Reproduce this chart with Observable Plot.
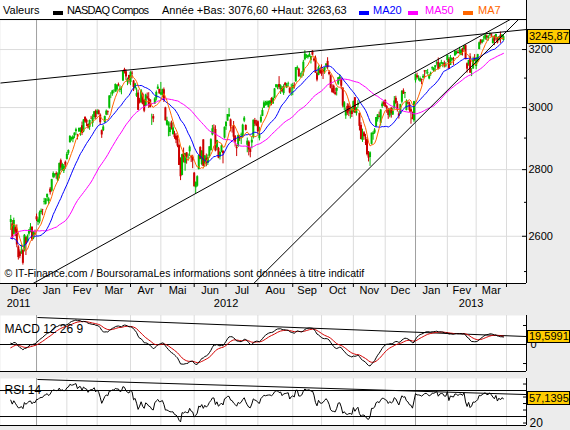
<!DOCTYPE html>
<html><head><meta charset="utf-8">
<script src="https://cdn.jsdelivr.net/npm/d3@7"></script>
<script src="https://cdn.jsdelivr.net/npm/@observablehq/plot@0.6"></script>
<style>
body{margin:0;background:#fff;}
#root{position:relative;width:570px;height:430px;background:#ececec;overflow:hidden;font-family:"Liberation Sans",Arial,sans-serif;color:#000;}
.abs{position:absolute;}
#hdr{left:0;top:0;width:526px;height:19px;background:#fff;border-bottom:1px solid #000;border-right:1px solid #000;}
#hdr span{position:absolute;top:4px;font-size:11px;line-height:13px;white-space:nowrap;}
#hdr i{position:absolute;top:11px;width:10px;height:4px;}
.box{position:absolute;left:527px;width:43px;background:#ffcc00;border:1px solid #000;font-size:11px;padding-left:1px;box-sizing:border-box;white-space:nowrap;overflow:hidden;}
</style>
</head><body>
<div id="root">
  <div id="hdr" class="abs">
    <span style="left:3px">Valeurs</span>
    <i style="left:53px;background:#000"></i>
    <span style="left:67px;letter-spacing:-0.7px">NASDAQ Compos</span>
    <span style="left:162px">Année +Bas: 3076,60 +Haut: 3263,63</span>
    <i style="left:359px;background:#0000ff"></i>
    <span style="left:373px;color:#0000ff">MA20</span>
    <i style="left:408px;background:#ff00ff"></i>
    <span style="left:425px;color:#ff00ff">MA50</span>
    <i style="left:463px;background:#ff6600"></i>
    <span style="left:478px;color:#ff6600">MA7</span>
  </div>
  <div id="main" class="abs" style="left:0;top:20px"></div>
  <div id="macd" class="abs" style="left:0;top:315px"></div>
  <div id="rsi" class="abs" style="left:0;top:378px"></div>
</div>
<script>
// ---------- DATA (NASDAQ Composite, daily [open, high, low, close]) ----------
const warmupCloses = [2546,2491,2481,2415,
 2335,2404,2460,2506,2479,2566,2583,2604,2620,2667,2614,2657,2604,2599,2637,2699,2638,2650,2738,2738,2684,
 2606,2640,2698,2686,2695,2727,2621,2625,2678,2657,2686,2639,2588,2573,2523,2521,2460,2441,2527,2516,2620,
 2626,2627,2655,2649];
const dec2011 = [[2640,2661,2617,2649],[2636,2646,2590,2596],[2606,2653,2604,2646],[2625,2628,2599,2612],[2620,2633,2567,2575],[2569,2573,2532,2539],[2555,2561,2536,2542],[2552,2575,2548,2555],[2559,2563,2518,2523],[2560,2605,2555,2603],[2596,2600,2545,2577],[2584,2604,2582,2599],[2606,2619,2600,2618],[2612,2637,2610,2625],[2626,2628,2585,2590],[2593,2614,2590,2613],[2607,2618,2602,2605]];
const jan2012 = [[2657,2665,2643,2648],[2640,2654,2631,2648],[2642,2674,2636,2669],[2669,2680,2663,2674],[2677,2679,2660,2676],[2700,2712,2692,2702],[2694,2711,2692,2710],[2714,2725,2702,2724],[2702,2714,2693,2710],[2740,2745,2722,2729],[2734,2770,2731,2769],[2776,2793,2772,2788],[2780,2787,2774,2786],[2788,2793,2770,2784],[2765,2790,2764,2786],[2783,2821,2771,2819],[2828,2833,2795,2805],[2797,2820,2795,2816],[2795,2816,2788,2811],[2823,2827,2801,2814]];
const feb2012 = [[2832,2854,2830,2848],[2851,2862,2845,2860],[2885,2908,2884,2905],[2895,2903,2890,2901],[2895,2908,2885,2904],[2908,2917,2898,2916],[2921,2932,2907,2927],[2905,2912,2894,2904],[2920,2933,2918,2931],[2922,2933,2906,2932],[2940,2952,2908,2915],[2920,2960,2917,2959],[2967,2970,2948,2952],[2958,2962,2937,2949],[2944,2947,2929,2933],[2935,2959,2925,2957],[2964,2971,2960,2963],[2948,2976,2935,2966],[2967,2987,2961,2986],[2988,2992,2961,2967]];
const mar2012 = [[2978,2993,2976,2988],[2989,2992,2975,2977],[2975,2979,2943,2950],[2924,2926,2899,2910],[2924,2941,2921,2936],[2950,2972,2948,2970],[2975,2992,2973,2988],[2986,2989,2974,2983],[2998,3040,2995,3039],[3041,3050,3030,3041],[3045,3058,3038,3056],[3055,3060,3047,3055],[3053,3080,3051,3078],[3059,3077,3052,3075],[3078,3083,3070,3075],[3058,3074,3050,3063],[3066,3070,3043,3068],[3090,3123,3088,3123],[3129,3134,3114,3120],[3122,3129,3092,3104],[3085,3100,3074,3095],[3109,3110,3079,3092]];
const apr2012 = [[3085,3122,3074,3120],[3117,3123,3097,3114],[3090,3092,3054,3068],[3064,3082,3059,3080],[3038,3066,3034,3047],[3049,3059,2990,2991],[3025,3031,3012,3016],[3016,3061,3014,3056],[3045,3049,3009,3011],[3025,3026,2983,2988],[3004,3045,3003,3042],[3036,3049,3026,3031],[3030,3050,2997,3007],[3025,3027,2999,3000],[2970,2978,2941,2970],[2970,2977,2950,2962],[3012,3033,3011,3029],[3029,3056,3022,3051],[3062,3077,3060,3069],[3061,3062,3045,3046]];
const may2012 = [[3043,3085,3040,3050],[3040,3062,3033,3060],[3060,3066,3017,3024],[2999,3001,2956,2956],[2942,2968,2939,2957],[2939,2953,2904,2946],[2918,2952,2905,2934],[2948,2955,2926,2933],[2911,2950,2910,2933],[2912,2922,2896,2902],[2906,2915,2882,2893],[2896,2908,2869,2874],[2876,2880,2813,2813],[2833,2837,2766,2778],[2782,2848,2781,2847],[2851,2868,2821,2839],[2820,2851,2795,2850],[2853,2853,2817,2839],[2836,2849,2827,2837],[2856,2875,2841,2871],[2840,2843,2822,2837],[2839,2845,2803,2827]];
const jun2012 = [[2789,2791,2747,2747],[2744,2762,2726,2760],[2749,2781,2746,2778],[2800,2845,2799,2844],[2870,2872,2831,2832],[2816,2860,2812,2858],[2894,2895,2809,2810],[2817,2844,2807,2843],[2836,2849,2809,2819],[2820,2846,2813,2837],[2842,2872,2836,2872],[2860,2898,2858,2895],[2910,2941,2907,2930],[2932,2943,2913,2930],[2928,2940,2856,2859],[2868,2893,2859,2892],[2867,2870,2834,2836],[2840,2857,2830,2854],[2857,2878,2853,2875],[2858,2859,2818,2850],[2900,2936,2897,2935]];
const jul2012 = [[2937,2954,2925,2951],[2955,2977,2955,2977],[2970,2997,2967,2976],[2959,2962,2920,2937],[2932,2936,2916,2931],[2939,2954,2891,2903],[2906,2908,2871,2887],[2870,2877,2841,2866],[2873,2910,2870,2908],[2903,2908,2889,2897],[2908,2916,2879,2910],[2905,2945,2900,2942],[2955,2970,2950,2965],[2941,2943,2923,2925],[2877,2900,2853,2890],[2887,2891,2843,2862],[2863,2869,2837,2854],[2884,2903,2865,2893],[2902,2959,2897,2958],[2957,2964,2937,2945],[2946,2958,2937,2940]];
const aug2012 = [[2953,2956,2913,2920],[2898,2935,2891,2910],[2952,2975,2948,2968],[2971,2998,2970,2990],[2998,3022,2997,3016],[3006,3021,3005,3011],[3008,3022,3006,3018],[3000,3021,2999,3021],[3011,3022,3004,3022],[3030,3033,3006,3017],[3012,3035,3011,3031],[3033,3064,3030,3063],[3068,3077,3065,3077],[3071,3076,3060,3076],[3078,3105,3060,3067],[3061,3077,3044,3073],[3064,3071,3050,3053],[3047,3077,3041,3070],[3082,3085,3070,3074],[3067,3082,3064,3077],[3079,3086,3070,3081],[3064,3068,3046,3049],[3067,3079,3038,3067]];
const sep2012 = [[3063,3082,3040,3075],[3073,3084,3062,3069],[3087,3136,3086,3136],[3133,3142,3127,3137],[3131,3134,3104,3104],[3105,3117,3100,3105],[3114,3122,3100,3115],[3118,3162,3106,3155],[3164,3196,3160,3184],[3176,3182,3168,3178],[3171,3180,3166,3178],[3175,3189,3172,3182],[3162,3176,3149,3175],[3194,3196,3177,3180],[3166,3171,3156,3160],[3170,3177,3117,3117],[3116,3120,3087,3093],[3109,3142,3108,3136],[3126,3131,3113,3116]];
const oct2012 = [[3130,3146,3106,3113],[3126,3134,3095,3120],[3124,3137,3113,3135],[3142,3150,3132,3149],[3158,3171,3130,3136],[3120,3126,3108,3112],[3108,3111,3063,3065],[3064,3077,3048,3051],[3072,3076,3046,3049],[3050,3065,3040,3044],[3055,3066,3039,3065],[3079,3102,3075,3101],[3094,3112,3089,3104],[3094,3100,3060,3072],[3066,3066,2999,3005],[3000,3020,2990,3016],[2972,2999,2961,2990],[3004,3013,2974,2981],[3005,3012,2970,2986],[2978,2998,2962,2987],[2989,2998,2967,2977]];
const nov2012 = [[2986,3022,2982,3020],[3033,3034,2980,2982],[2980,3000,2972,2999],[3007,3023,2998,3011],[2981,2981,2923,2938],[2941,2950,2895,2895],[2892,2929,2886,2904],[2917,2921,2893,2904],[2885,2912,2876,2884],[2895,2902,2843,2847],[2849,2857,2824,2836],[2838,2856,2810,2853],[2880,2916,2878,2916],[2911,2921,2893,2916],[2916,2931,2912,2926],[2937,2967,2935,2967],[2960,2977,2952,2976],[2971,2985,2966,2968],[2948,2993,2939,2992],[3003,3019,2997,3012],[3016,3020,3004,3010]];
const dec2012 = [[3024,3026,3000,3002],[3003,3007,2981,2996],[2994,2997,2961,2974],[2972,2996,2966,2989],[2998,3000,2965,2979],[2975,2998,2974,2987],[2996,3037,2995,3022],[3031,3038,3010,3014],[3012,3020,2985,2993],[2979,2986,2962,2971],[2978,3011,2978,3010],[3018,3057,3012,3055],[3056,3063,3044,3045],[3047,3051,3030,3050],[2990,3026,2989,3021],[3016,3020,3010,3012],[3012,3018,2984,2990],[2993,3000,2945,2985],[2966,2985,2960,2960],[2956,3021,2950,3020]];
const jan2013 = [[3091,3113,3083,3112],[3108,3117,3096,3101],[3101,3108,3090,3101],[3089,3104,3085,3098],[3095,3097,3077,3092],[3100,3112,3097,3106],[3125,3126,3098,3121],[3123,3126,3113,3125],[3116,3130,3110,3118],[3097,3112,3094,3110],[3112,3121,3106,3117],[3132,3139,3126,3136],[3124,3135,3120,3135],[3136,3144,3121,3143],[3149,3159,3142,3153],[3154,3170,3128,3130],[3137,3152,3131,3150],[3150,3162,3146,3154],[3147,3153,3136,3153],[3150,3159,3135,3142],[3140,3154,3136,3142]];
const feb2013 = [[3161,3180,3154,3179],[3165,3171,3131,3131],[3144,3179,3144,3171],[3162,3170,3157,3168],[3168,3172,3144,3165],[3178,3196,3175,3194],[3189,3195,3181,3192],[3190,3198,3184,3186],[3193,3208,3183,3196],[3180,3202,3178,3198],[3202,3205,3177,3192],[3200,3213,3195,3213],[3214,3216,3164,3164],[3150,3153,3117,3131],[3147,3162,3141,3161],[3174,3185,3116,3117],[3129,3133,3105,3129],[3132,3173,3130,3162],[3167,3182,3157,3160]];
const mar2013 = [[3140,3172,3129,3169],[3159,3183,3154,3182],[3200,3227,3199,3224],[3234,3235,3216,3222],[3224,3236,3220,3232],[3242,3248,3226,3244],[3237,3253,3233,3252],[3248,3252,3231,3242],[3240,3250,3230,3245],[3252,3259,3246,3258],[3253,3257,3242,3249],[3221,3248,3220,3238],[3245,3250,3214,3229],[3243,3255,3233,3254],[3240,3244,3220,3223],[3232,3246,3230,3245],[3251,3263,3222,3235],[3244,3253,3240,3252],[3232,3250,3230,3245.87]];

const monthNames = ["Dec","Jan","Fev","Mar","Avr","Mai","Jun","Jul","Aou","Sep","Oct","Nov","Dec","Jan","Fev","Mar"];
const monthTradingDays = [21,20,20,22,20,22,21,21,23,19,21,21,20,21,19,20];
const yearNames = ["2011","2012","2013"];
const yearStartMonth = [0,1,13];
const firstBarIndex = 4;
const priceTicks = [2600,2800,3000,3200];
const priceMinorTicks = [2500,2700,2900,3100];
const lastPrice = 3245.87, lastMacd = 19.5991, lastRsi = 57.1395;
// drawn trend lines (bar index, value)
const priceTrends = [
  {i1:-2.8, v1:3083, i2:344.2, v2:3272},
  {i1:10.4, v1:2448, i2:344.2, v2:3342},
  {i1:155.5, v1:2431, i2:344.2, v2:3338}
];
const macdTrend = [{i1:21.6, v1:71, i2:344.2, v2:21}];
const rsiTrend = [{i1:21.6, v1:87, i2:344.2, v2:63.8}];

// ---------- BUILD ----------
const months = [dec2011,jan2012,feb2012,mar2012,apr2012,may2012,jun2012,jul2012,aug2012,sep2012,oct2012,nov2012,dec2012,jan2013,feb2013,mar2013];
const bars = [];
let idx = firstBarIndex;
for (const m of months) for (const [o,h,l,c] of m) bars.push({i:idx++, open:o, high:h, low:l, close:c});
const allCloses = warmupCloses.concat(bars.map(b => b.close));
const off = warmupCloses.length;
const sma = n => bars.map((b,k) => ({i:b.i, v:d3.mean(allCloses.slice(off+k-n+1, off+k+1))}));
const ma7 = sma(7), ma20 = sma(20), ma50 = sma(50);
function ema(arr,n){const a=2/(n+1);let e=arr[0];return arr.map((v,j)=>j===0?e:(e=a*v+(1-a)*e));}
const e12 = ema(allCloses,12), e26 = ema(allCloses,26);
const macdAll = e12.map((v,j)=>v-e26[j]);
const sigAll = ema(macdAll,9);
const rsiAll = (()=>{const n=14,out=[];let ag=0,al=0;
  for(let j=0;j<allCloses.length;j++){
    if(j===0){out.push(NaN);continue;}
    const d=allCloses[j]-allCloses[j-1],g=Math.max(d,0),l=Math.max(-d,0);
    if(j<=n){ag+=g/n;al+=l/n;out.push(j===n?100-100/(1+ag/al):NaN);}
    else{ag=(ag*(n-1)+g)/n;al=(al*(n-1)+l)/n;out.push(100-100/(1+ag/al));}
  } return out;})();
const ind = bars.map((b,k)=>({i:b.i, macd:macdAll[off+k], signal:sigAll[off+k], rsi:rsiAll[off+k]}));

const monthStarts = [0];
for (const d of monthTradingDays) monthStarts.push(monthStarts[monthStarts.length-1]+d);
const yearStarts = yearStartMonth.slice(1).map(m => monthStarts[m]);
const gridMonths = monthStarts.filter(s => s>0 && !yearStarts.includes(s));
const tickMonths = monthStarts.filter(s => s>0);
const xDomain = [-2.77, 344.2];
const monthLabels = monthNames.map((n,k)=>({name:n, mid:(monthStarts[k]+monthStarts[k+1])/2}));
const yearEdges = [xDomain[0], ...yearStarts, xDomain[1]];
const yearLabels = yearNames.map((n,k)=>({name:n, mid:(yearEdges[k]+yearEdges[k+1])/2}));

const GREEN="#00bb00", RED="#cc0000";
const col = d => d.close >= d.open ? GREEN : RED;
const font = {background:"transparent", fontFamily:"Liberation Sans, Arial, sans-serif", fontSize:"11px", color:"#000", overflow:"visible"};
const priceDomain = [2467, 3305];

const mainPlot = Plot.plot({
  width:570, height:296, marginTop:0, marginBottom:33, marginLeft:0, marginRight:44,
  style:font,
  x:{domain:xDomain},
  y:{type:"log", domain:priceDomain},
  marks:[
    Plot.frame({fill:"white", stroke:null}),
    Plot.ruleY(priceTicks, {stroke:"#dcdcdc"}),
    Plot.ruleX(gridMonths, {stroke:"#dcdcdc"}),
    Plot.ruleX(yearStarts, {stroke:"#a0a0a0"}),
    Plot.ruleX(bars, {x:"i", y1:"low", y2:"high", stroke:col, strokeWidth:1}),
    Plot.ruleX(bars, {x:"i", y1:"open", y2:"close", stroke:col, strokeWidth:2}),
    Plot.lineY(ma50, {x:"i", y:"v", stroke:"#ff00ff", strokeWidth:1}),
    Plot.lineY(ma20, {x:"i", y:"v", stroke:"#0000ff", strokeWidth:1}),
    Plot.lineY(ma7, {x:"i", y:"v", stroke:"#ff6600", strokeWidth:1}),
    Plot.link(priceTrends, {x1:"i1", y1:"v1", x2:"i2", y2:"v2", stroke:"#000", strokeWidth:1, clip:true}),
    Plot.text(["© IT-Finance.com / BoursoramaLes informations sont données à titre indicatif"], {frameAnchor:"bottom-left", dx:4, dy:-7, textAnchor:"start", fontSize:10.5, fill:"#000"}),
    Plot.ruleX([xDomain[1]], {stroke:"#000"}),
    Plot.ruleY([priceDomain[0]], {stroke:"#000"}),
    Plot.axisY({anchor:"right", ticks:priceTicks, tickSize:-5, tickPadding:7, tickFormat:d=>String(d), label:null, fontSize:11}),
    Plot.axisY({anchor:"right", ticks:priceMinorTicks, tickSize:-3, tickFormat:()=>"", label:null}),
    Plot.axisX({ticks:tickMonths, tickSize:4, tickFormat:()=>"", label:null}),
    Plot.text(monthLabels, {x:"mid", text:"name", frameAnchor:"bottom", dy:10, fontSize:11}),
    Plot.text(yearLabels, {x:"mid", text:"name", frameAnchor:"bottom", dy:23, fontSize:11})
  ]
});
document.getElementById("main").appendChild(mainPlot);

const macdDomain = [-71, 76.3];
const macdPlot = Plot.plot({
  width:570, height:57, marginTop:0, marginBottom:1, marginLeft:0, marginRight:44,
  style:font,
  x:{domain:xDomain, axis:null}, y:{domain:macdDomain},
  marks:[
    Plot.frame({fill:"white", stroke:null}),
    Plot.ruleX(gridMonths, {stroke:"#dcdcdc"}),
    Plot.ruleX(yearStarts, {stroke:"#a0a0a0"}),
    Plot.ruleY([0], {stroke:"#000"}),
    Plot.link(macdTrend, {x1:"i1", y1:"v1", x2:"i2", y2:"v2", stroke:"#000", clip:true}),
    Plot.lineY(ind, {x:"i", y:"signal", stroke:"#d40000", strokeWidth:1}),
    Plot.lineY(ind, {x:"i", y:"macd", stroke:"#000", strokeWidth:1}),
    Plot.text(["MACD 12 26 9"], {frameAnchor:"top-left", dx:4, dy:9, textAnchor:"start", fontSize:12}),
    Plot.ruleX([xDomain[1]], {stroke:"#000"}),
    Plot.ruleY([macdDomain[0]], {stroke:"#000"}),
    Plot.axisY({anchor:"right", ticks:[-50,50], tickSize:-4, tickFormat:()=>"", label:null}),
    Plot.axisY({anchor:"right", ticks:[0], tickSize:0, tickPadding:4, tickFormat:d=>String(d), label:null})
  ]
});
document.getElementById("macd").appendChild(macdPlot);

const rsiDomain = [16.2, 88.5];
const rsiPlot = Plot.plot({
  width:570, height:48, marginTop:0, marginBottom:1, marginLeft:0, marginRight:44,
  style:font,
  x:{domain:xDomain, axis:null}, y:{domain:rsiDomain},
  marks:[
    Plot.frame({fill:"white", stroke:null}),
    Plot.ruleX(gridMonths, {stroke:"#dcdcdc"}),
    Plot.ruleX(yearStarts, {stroke:"#a0a0a0"}),
    Plot.ruleY([30,70], {stroke:"#000"}),
    Plot.link(rsiTrend, {x1:"i1", y1:"v1", x2:"i2", y2:"v2", stroke:"#000", clip:true}),
    Plot.lineY(ind, {x:"i", y:"rsi", stroke:"#000", strokeWidth:1}),
    Plot.text(["RSI 14"], {frameAnchor:"top-left", dx:4, dy:7, textAnchor:"start", fontSize:12}),
    Plot.ruleX([xDomain[1]], {stroke:"#000"}),
    Plot.ruleY([rsiDomain[0]], {stroke:"#000"}),
    Plot.axisY({anchor:"right", ticks:[80,60,50,40,30], tickSize:-4, tickFormat:()=>"", label:null}),
    Plot.axisY({anchor:"right", ticks:[20], tickSize:-4, tickPadding:7, tickFormat:d=>String(d), label:null, fontSize:12})
  ]
});
document.getElementById("rsi").appendChild(rsiPlot);

// value boxes placed with the plots' own y scales
function addBox(plot, top, value, text, h){
  const y = top + plot.scale("y").apply(value);
  const div = document.createElement("div");
  div.className = "box";
  div.style.top = Math.round(y - h/2) + "px";
  div.style.height = h + "px";
  div.style.lineHeight = (h-2) + "px";
  div.textContent = text;
  document.getElementById("root").appendChild(div);
}
addBox(mainPlot, 20, lastPrice, "3245,87", 15);
addBox(macdPlot, 315, lastMacd, "19,5991", 13);
addBox(rsiPlot, 378, lastRsi, "57,1395", 14);
</script>
</body></html>
